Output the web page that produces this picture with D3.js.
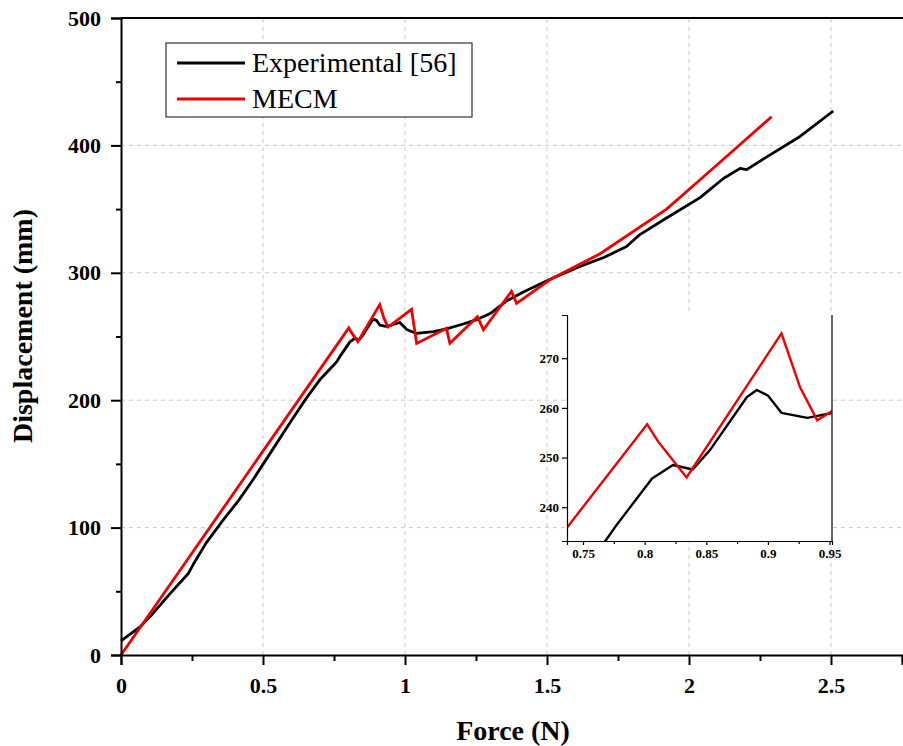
<!DOCTYPE html>
<html>
<head>
<meta charset="utf-8">
<script src="https://cdn.jsdelivr.net/npm/d3@7"></script>
<style>
  body { margin: 0; background: #fff; }
  text { font-family: "Liberation Serif", "Times New Roman", serif; }
</style>
</head>
<body>
<svg id="svg" width="903" height="746"></svg>
<script>
// Force (N) vs displacement (mm)
var expData = [
  [0, 11], [0.067, 22], [0.114, 33], [0.172, 48], [0.237, 64], [0.254, 71],
  [0.30, 88], [0.36, 106], [0.413, 121], [0.466, 138], [0.536, 162], [0.60, 184],
  [0.654, 202], [0.70, 216], [0.759, 230], [0.776, 236], [0.806, 245.8],
  [0.823, 248.5], [0.839, 247.6], [0.853, 251.5], [0.883, 262.2], [0.891, 263.6],
  [0.900, 262.5], [0.911, 259], [0.932, 258], [0.953, 259], [0.982, 261],
  [1.006, 255.5], [1.04, 252.4], [1.10, 253.8], [1.146, 256], [1.205, 259.8],
  [1.25, 263], [1.30, 268], [1.358, 278], [1.417, 285], [1.511, 295], [1.616, 305],
  [1.70, 312], [1.78, 320.6], [1.827, 330], [1.921, 343], [2.039, 359], [2.121, 374],
  [2.18, 382], [2.203, 381], [2.274, 391], [2.391, 407], [2.508, 427]
];
var mecmData = [
  [0, 0], [0.802, 256.7], [0.811, 253.2], [0.834, 246], [0.911, 275],
  [0.926, 264.2], [0.940, 257.5], [0.953, 259.5], [1.023, 271.3], [1.041, 244.6],
  [1.146, 256.4], [1.158, 244.6], [1.255, 265.5], [1.276, 255.3], [1.375, 285.5],
  [1.393, 276], [1.511, 294.7], [1.687, 315], [1.921, 350], [2.039, 373],
  [2.156, 396], [2.291, 422.5]
];
var xTicks = [0, 0.5, 1, 1.5, 2, 2.5];
var xMinor = [0.25, 0.75, 1.25, 1.75, 2.25, 2.75];
var yTicks = [0, 100, 200, 300, 400, 500];
var yMinor = [50, 150, 250, 350, 450];
var insetXTicks = [0.75, 0.8, 0.85, 0.9, 0.95];
var insetXMinor = [0.775, 0.825, 0.875, 0.925];
var insetYTicks = [240, 250, 260, 270];
var seriesNames = ["Experimental [56]", "MECM"];
var seriesColors = ["#000000", "#ee0000"];

var svg = d3.select("#svg");

var x = d3.scaleLinear().domain([0, 2.75]).range([121, 902]);
var y = d3.scaleLinear().domain([0, 500]).range([655, 18]);

// grid
var grid = svg.append("g").attr("stroke", "#c8c8c8").attr("stroke-dasharray", "4,4").attr("stroke-width", 1);
grid.selectAll(".gx").data(xTicks.slice(1)).enter().append("line")
    .attr("x1", function(d) { return x(d); }).attr("x2", function(d) { return x(d); })
    .attr("y1", y(0)).attr("y2", y(500));
grid.selectAll(".gy").data(yTicks.slice(1, 5)).enter().append("line")
    .attr("y1", function(d) { return y(d); }).attr("y2", function(d) { return y(d); })
    .attr("x1", x(0)).attr("x2", x(2.75));

var line = d3.line()
    .x(function(d) { return x(d[0]); })
    .y(function(d) { return y(d[1]); });

svg.append("path").datum(expData)
    .attr("fill", "none").attr("stroke", seriesColors[0]).attr("stroke-width", 2.8)
    .attr("stroke-linejoin", "round").attr("d", line);
svg.append("path").datum(mecmData)
    .attr("fill", "none").attr("stroke", seriesColors[1]).attr("stroke-width", 2.8)
    .attr("stroke-linejoin", "miter").attr("d", line);

// axes
svg.append("g").attr("transform", "translate(0,655)")
    .call(d3.axisBottom(x).tickValues(xTicks).tickSize(10).tickPadding(12)
      .tickFormat(function(d) { return d; }));
svg.append("g").attr("transform", "translate(0,655)")
    .call(d3.axisBottom(x).tickValues(xMinor).tickSize(6).tickFormat(""))
    .select(".domain").remove();
svg.append("g").attr("transform", "translate(121,0)")
    .call(d3.axisLeft(y).tickValues(yTicks).tickSize(10).tickPadding(10));
svg.append("g").attr("transform", "translate(121,0)")
    .call(d3.axisLeft(y).tickValues(yMinor).tickSize(5).tickFormat(""))
    .select(".domain").remove();

svg.selectAll(".domain").attr("stroke", "#000").attr("stroke-width", 2);
svg.selectAll(".tick line").attr("stroke", "#000").attr("stroke-width", 2);
svg.selectAll(".tick text")
    .attr("font-family", "Liberation Serif").attr("font-size", 22)
    .attr("font-weight", "bold").attr("fill", "#000");

// top spine
svg.append("line").attr("x1", 121).attr("x2", 903).attr("y1", 18).attr("y2", 18)
    .attr("stroke", "#000").attr("stroke-width", 2);

svg.append("text")
    .attr("x", 513).attr("y", 740)
    .attr("text-anchor", "middle").attr("font-size", 28).attr("font-weight", "bold")
    .text("Force (N)");
svg.append("text")
    .attr("transform", "translate(32,326) rotate(-90)")
    .attr("text-anchor", "middle").attr("font-size", 28).attr("font-weight", "bold")
    .text("Displacement (mm)");

// legend
var legend = svg.append("g");
legend.append("rect")
    .attr("x", 166).attr("y", 43).attr("width", 306).attr("height", 74)
    .attr("fill", "#fff").attr("stroke", "#333").attr("stroke-width", 1.2);
legend.selectAll(".ll").data(seriesNames).enter().append("line")
    .attr("x1", 177).attr("x2", 245)
    .attr("y1", function(d, i) { return 63 + i * 36; })
    .attr("y2", function(d, i) { return 63 + i * 36; })
    .attr("stroke", function(d, i) { return seriesColors[i]; })
    .attr("stroke-width", 2.8);
legend.selectAll(".lt").data(seriesNames).enter().append("text")
    .attr("x", 252)
    .attr("y", function(d, i) { return 72 + i * 36; })
    .attr("font-size", 28)
    .text(function(d) { return d; });

// inset
var ix = d3.scaleLinear().domain([0.737, 0.952]).range([567, 832]);
var iy = d3.scaleLinear().domain([233.2, 278.7]).range([541, 315]);

var inset = svg.append("g");
inset.append("rect").attr("x", 567).attr("y", 315).attr("width", 265).attr("height", 226)
    .attr("fill", "#fff");
svg.append("clipPath").attr("id", "iclip").append("rect")
    .attr("x", 567).attr("y", 315).attr("width", 265).attr("height", 226);

var iline = d3.line()
    .x(function(d) { return ix(d[0]); })
    .y(function(d) { return iy(d[1]); });
var clipped = inset.append("g").attr("clip-path", "url(#iclip)");
clipped.append("path").datum(expData)
    .attr("fill", "none").attr("stroke", seriesColors[0]).attr("stroke-width", 2.4)
    .attr("stroke-linejoin", "round").attr("d", iline);
clipped.append("path").datum(mecmData)
    .attr("fill", "none").attr("stroke", seriesColors[1]).attr("stroke-width", 2.4)
    .attr("d", iline);

inset.append("g").attr("transform", "translate(0,541)")
    .call(d3.axisBottom(ix).tickValues(insetXTicks).tickSize(4).tickPadding(4)
      .tickFormat(function(d) { return d; }));
inset.append("g").attr("transform", "translate(0,541)")
    .call(d3.axisBottom(ix).tickValues(insetXMinor).tickSize(3).tickFormat(""))
    .select(".domain").remove();
inset.append("g").attr("transform", "translate(567,0)")
    .call(d3.axisLeft(iy).tickValues(insetYTicks).tickSize(5).tickPadding(3));
inset.append("line").attr("x1", 832).attr("x2", 832).attr("y1", 315).attr("y2", 541)
    .attr("stroke", "#000").attr("stroke-width", 1.2);

inset.selectAll(".domain").attr("stroke", "#000").attr("stroke-width", 1.2);
inset.selectAll(".tick line").attr("stroke", "#000").attr("stroke-width", 1.2);
inset.selectAll(".tick text")
    .attr("font-family", "Liberation Serif").attr("font-size", 13)
    .attr("font-weight", "bold").attr("fill", "#000");
</script>
</body>
</html>
